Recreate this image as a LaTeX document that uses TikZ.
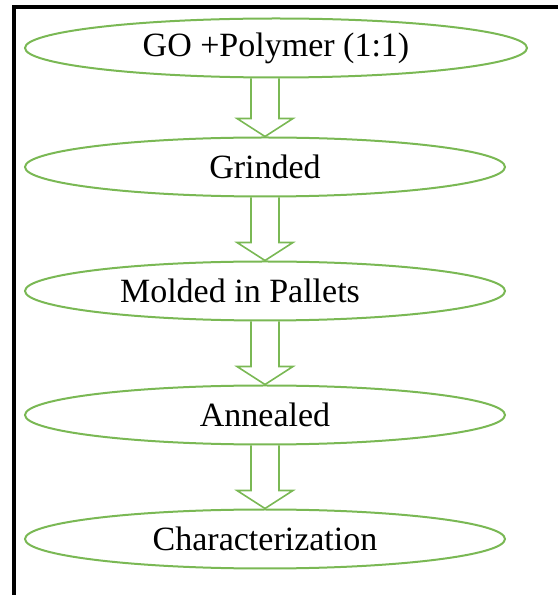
\documentclass[tikz,border=0pt]{standalone}
\usepackage{fontspec}
\setmainfont{Liberation Serif}
\usetikzlibrary{shapes.geometric, positioning, calc}
\definecolor{stagegreen}{RGB}{122,184,84}
\tikzset{
    x=1pt, y=1pt, % one unit is one pixel of the reference
    stage/.style={ellipse, draw=stagegreen, line width=2pt, minimum width=480pt, minimum height=59pt, inner sep=0pt, font=\fontsize{34}{40}\selectfont}, % sets the look of each step
    node distance=63pt, % gap between two steps
    hollow/.style={draw=stagegreen, line width=1.6pt, to path={
        let \p1=(\tikztostart.south), \p2=(\tikztotarget.north) in
        (\x2-14pt,\y1) -- (\x2-14pt,\y2+18pt) -- (\x2-28pt,\y2+18pt) -- (\x2,\y2)
        -- (\x2+28pt,\y2+18pt) -- (\x2+14pt,\y2+18pt) -- (\x2+14pt,\y1)}}, % open block arrow
}

\begin{document}
\begin{tikzpicture}
    \useasboundingbox (0,0) rectangle (558,595);
    \draw[line width=4pt] (14,0) -- (14,588) -- (558,588);
    \node[stage, minimum width=502pt] (g1) at (276,547) {GO +Polymer (1:1)};
    \node[stage, below=58pt of g1, xshift=-11pt] (g2) {Grinded};
    \node[stage, below=of g2] (g3) {Molded in Pallets\hspace*{50pt}};
    \node[stage, below=of g3] (g4) {Annealed};
    \node[stage, below=of g4] (g5) {Characterization};
    \draw
    (g1) edge[hollow] (g2)
    (g2) edge[hollow] (g3)
    (g3) edge[hollow] (g4)
    (g4) edge[hollow] (g5);
\end{tikzpicture}
\end{document}
